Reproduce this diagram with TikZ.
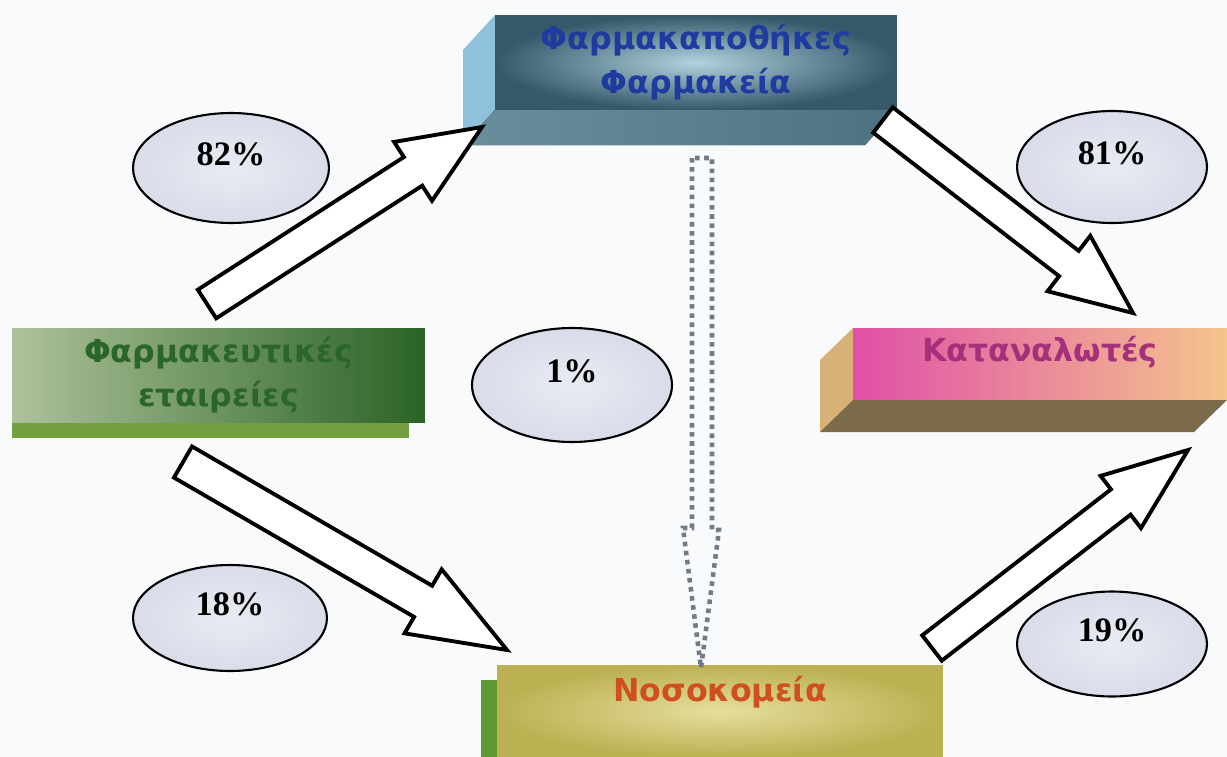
\documentclass[tikz,border=0pt]{standalone}
\usepackage{fontspec}
\setmainfont{Liberation Serif}
\newfontfamily\grfont{DejaVu Sans}
\usetikzlibrary{calc,shapes.geometric}
\definecolor{bgc}{HTML}{F9FAFB}
\definecolor{waredark}{HTML}{36586A}
\definecolor{warelight}{HTML}{B2D2DE}
\definecolor{wareside}{HTML}{8EC2DC}
\definecolor{warebotA}{HTML}{6A8E9C}
\definecolor{warebotB}{HTML}{4C7282}
\definecolor{waretext}{HTML}{1E3CA0}
\definecolor{phlight}{HTML}{AEC29A}
\definecolor{phmid}{HTML}{6E9658}
\definecolor{phdark}{HTML}{2A6326}
\definecolor{phstrip}{HTML}{72A040}
\definecolor{phtext}{HTML}{2A662A}
\definecolor{conpink}{HTML}{E050A6}
\definecolor{conpeach}{HTML}{F4C48E}
\definecolor{conside}{HTML}{D8B178}
\definecolor{conbot}{HTML}{7B6B4A}
\definecolor{context}{HTML}{A4307C}
\definecolor{hoslight}{HTML}{E6DE9E}
\definecolor{hosdark}{HTML}{BBB152}
\definecolor{hosgreen}{HTML}{5E9A32}
\definecolor{hostext}{HTML}{CF4F1F}
\definecolor{ellin}{HTML}{E9EBF3}
\definecolor{ellout}{HTML}{D9DCE9}
\definecolor{dotc}{HTML}{737C86}
\tikzset{
  boxtext/.style={font=\grfont\bfseries\fontsize{18}{25}\selectfont, align=center},
  face/.style={rectangle, inner sep=0pt, outer sep=0pt},
  pct/.style={ellipse, draw=black, line width=1.2pt, inner color=ellin, outer color=ellout,
    inner sep=0pt, font=\bfseries\fontsize{19.5}{22}\selectfont, text height=0.5cm, text depth=0.6cm},
  blockarrow/.style={draw=black, fill=white, line width=2.2pt, line join=miter},
  dotarrow/.style={draw=dotc, line width=2.6pt, dash pattern=on 2.6pt off 2.6pt}
}
\newcommand\blkarrow[5]{%
  \coordinate (neck) at ($(#2)!#5!(#1)$);
  \draw[blockarrow] ($(#1)!#3!90:(#2)$) -- ($(neck)!#3!-90:(#1)$) -- ($(neck)!#4!-90:(#1)$)
    -- (#2) -- ($(neck)!#4!90:(#1)$) -- ($(neck)!#3!90:(#1)$) -- ($(#1)!#3!-90:(#2)$) -- cycle;}
\begin{document}
\begin{tikzpicture}[x=0.02cm,y=0.02cm]
\useasboundingbox (0,0) rectangle (1227,-757);
\clip (0,0) rectangle (1227,-757);
\fill[bgc] (0,0) rectangle (1227,-757);

% Top box: Farmakapothikes
\fill[wareside] (495,-15) -- (463,-50) -- (463,-145) -- (495,-110) -- cycle;
\fill[left color=warebotA, right color=warebotB] (495,-110) -- (897,-110) -- (865,-145) -- (463,-145) -- cycle;
\node[face, minimum width=8.04cm, minimum height=1.9cm, inner color=warelight, outer color=waredark,
  boxtext, text=waretext] (ware) at (696,-62.5) {Φαρμακαποθήκες\\Φαρμακεία};

% Left box: Farmakeftikes etaireies
\fill[phstrip] (12,-423) rectangle (409,-438);
\node[face, minimum width=8.26cm, minimum height=1.9cm, left color=phlight, middle color=phmid, right color=phdark,
  boxtext, text=phtext] (pharma) at (218.5,-375.5) {Φαρμακευτικές\\εταιρείες};

% Right box: Katanalotes
\fill[conside] (853,-328) -- (820,-360) -- (820,-432) -- (853,-400) -- cycle;
\fill[conbot] (853,-400) -- (1227,-400) -- (1194,-432) -- (820,-432) -- cycle;
\node[face, minimum width=7.48cm, minimum height=1.44cm, left color=conpink, right color=conpeach,
  boxtext, text=context, text height=0.6cm, text depth=0.72cm] (cons) at (1040,-364) {Καταναλωτές};

% Bottom box: Nosokomeia
\fill[hosgreen] (481,-680) rectangle (497,-757);
\node[face, minimum width=8.92cm, minimum height=1.84cm, inner color=hoslight, outer color=hosdark,
  boxtext, text=hostext, text height=0.5cm, text depth=0.9cm] (hosp) at (720,-711) {Νοσοκομεία};

% Percent ellipses
\node[pct, minimum width=3.92cm, minimum height=2.2cm] (p82) at (231,-168) {82\%};
\node[pct, minimum width=3.8cm, minimum height=2.24cm] (p81) at (1112,-167) {81\%};
\node[pct, minimum width=4.0cm, minimum height=2.28cm] (p1) at (572,-385) {1\%};
\node[pct, minimum width=3.88cm, minimum height=2.12cm] (p18) at (230,-618) {18\%};
\node[pct, minimum width=3.8cm, minimum height=2.1cm] (p19) at (1112,-644) {19\%};

% Block arrows
\coordinate (a1t) at (207,-304); \coordinate (a1h) at (482,-127);
\coordinate (a2t) at (883,-120); \coordinate (a2h) at (1133,-313);
\coordinate (a3t) at (183,-462); \coordinate (a3h) at (507,-650);
\coordinate (a4t) at (932,-648); \coordinate (a4h) at (1188,-450);
\blkarrow{a1t}{a1h}{0.34cm}{0.70cm}{1.64cm}
\blkarrow{a2t}{a2h}{0.32cm}{0.70cm}{1.62cm}
\blkarrow{a3t}{a3h}{0.36cm}{0.74cm}{1.94cm}
\blkarrow{a4t}{a4h}{0.32cm}{0.66cm}{1.70cm}

% Dotted arrow from warehouses to hospitals
\coordinate (dH) at (701,-668);
\draw[dotarrow] (692,-158) -- (692,-528) -- (683,-528) -- (dH) -- (719,-530) -- (712,-530) -- (712,-158) -- cycle;
\end{tikzpicture}
\end{document}
